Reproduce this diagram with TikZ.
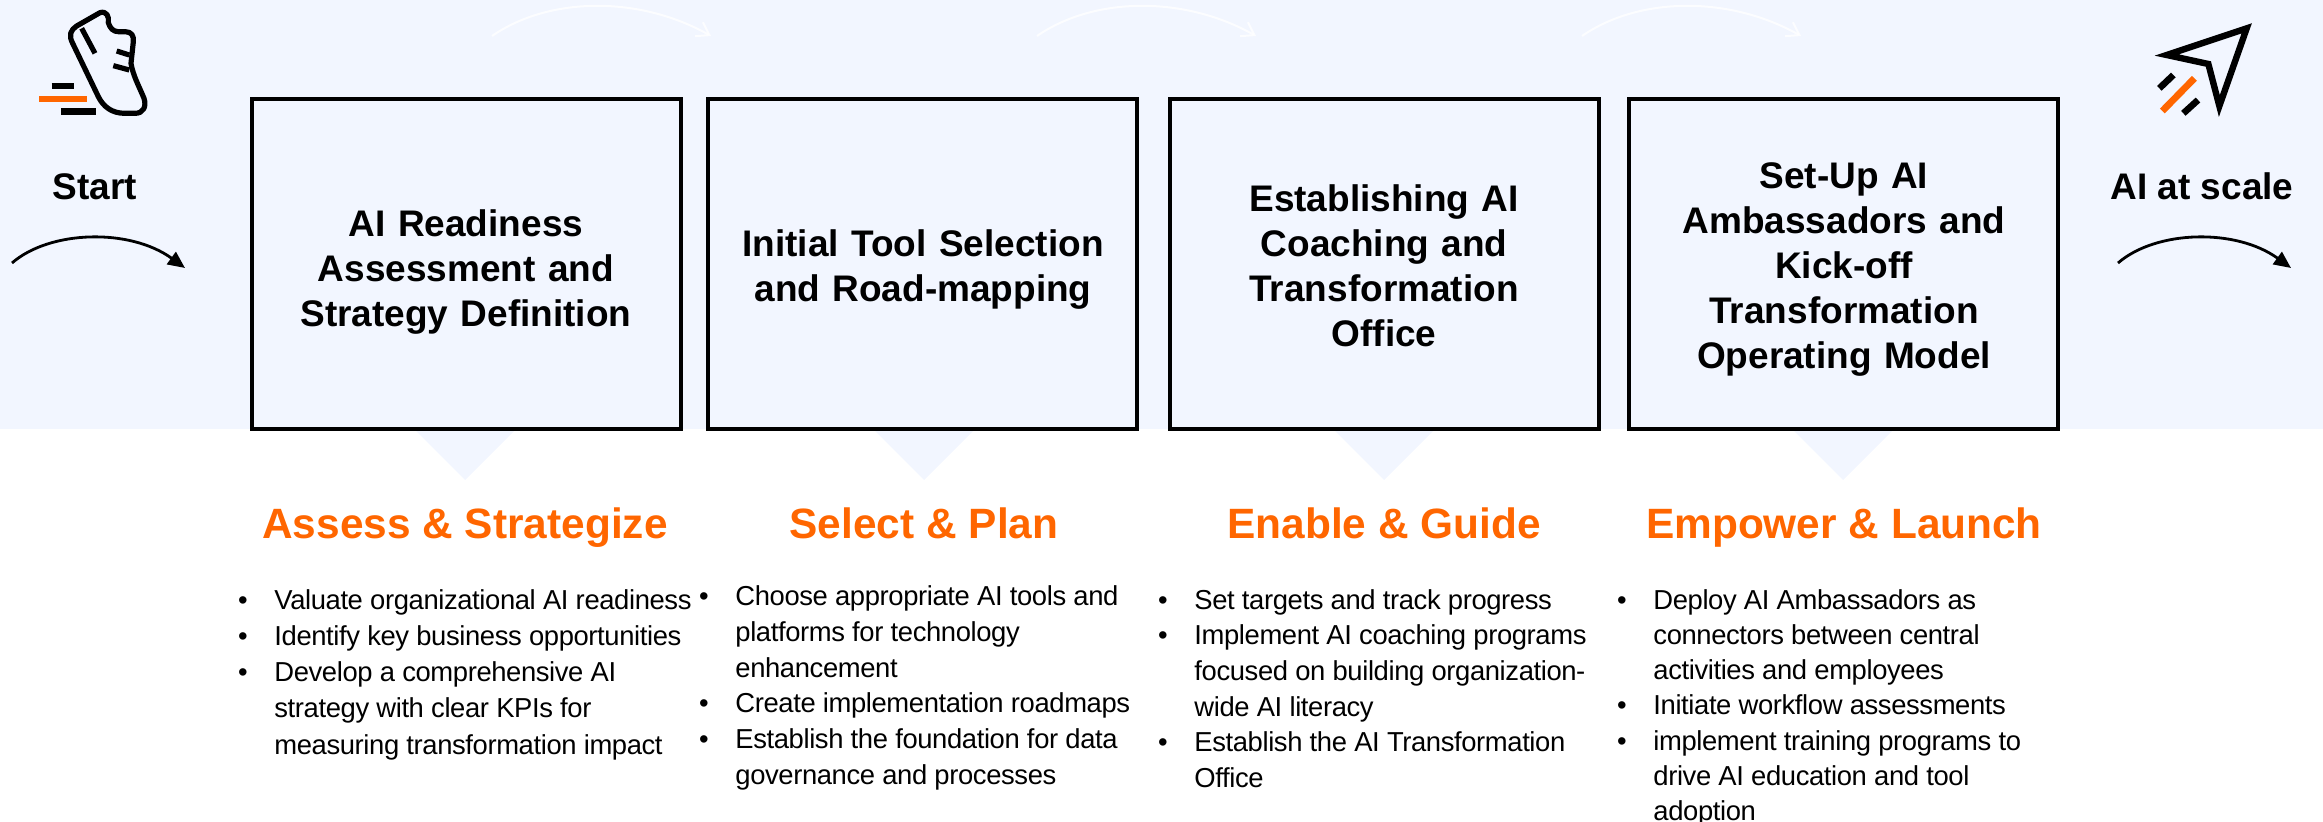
\documentclass[tikz,border=0pt]{standalone}
\usepackage{fontspec}
\setmainfont{Liberation Sans}
\newfontfamily\bodyfont{Liberation Sans}[LetterSpace=-1.4]
\usetikzlibrary{arrows.meta}
\definecolor{band}{HTML}{F2F6FF}
\definecolor{orng}{HTML}{FF6600}
\newcommand{\bul}[1]{\llap{•\hspace{13.4pt}}#1\\}
\tikzset{
 x=0.5pt,y=-0.5pt,
 stagebox/.style={draw=black,line width=2pt,fill=band,minimum width=214.5pt,minimum height=165pt,inner sep=0pt},
 stagetext/.style={inner sep=0pt,text width=190pt,align=center,font=\fontsize{18.5}{22.5}\selectfont\bfseries},
 heading/.style={anchor=base,text=orng,inner sep=0pt,font=\fontsize{21.2}{25}\selectfont\bfseries},
 endlabel/.style={anchor=base,inner sep=0pt,font=\fontsize{18.5}{22}\selectfont\bfseries},
 bodylist/.style={anchor=north west,inner sep=0pt,align=left,font=\fontsize{13.7}{#1}\bodyfont},
 notch/.style={fill=band,draw=none},
 flowblack/.style={draw=black,line width=1.4pt,-{Triangle[length=8.5pt,width=7.5pt]}},
 flowwhite/.style={draw=white,line width=1pt,opacity=.8,-{Straight Barb[length=6pt,width=8pt]}},
 iconline/.style={draw=black,line width=2.6pt,line join=round,line cap=round},
 dashblack/.style={draw=black,line width=3.3pt},
 dashorange/.style={draw=orng,line width=3.4pt},
}
\begin{document}
\begin{tikzpicture}
\useasboundingbox (0,0) rectangle (2323,822);
\fill[band] (0,0) rectangle (2323,429);
\foreach \c in {465,924,1384,1843}{\fill[notch] (\c-51,429) -- (\c+51,429) -- (\c,480) -- cycle;}
\node[stagebox] (b1) at (466,264) {};
\node[stagebox] (b2) at (922.5,264) {};
\node[stagebox] (b3) at (1384,264) {};
\node[stagebox] (b4) at (1843.5,264) {};
\node[stagetext] (t1) at (466,272) {AI Readiness\\Assessment and\\Strategy Definition};
\node[stagetext] (t2) at (923,270) {Initial Tool Selection\\and Road-mapping};
\node[stagetext] (t3) at (1384,266) {Establishing AI\\Coaching and\\Transformation\\Office};
\node[stagetext] (t4) at (1844,270) {Set-Up AI\\Ambassadors and\\Kick-off\\Transformation\\Operating Model};
\node[heading] (h1) at (465,538.5) {Assess \& Strategize};
\node[heading] (h2) at (924,538.5) {Select \& Plan};
\node[heading] (h3) at (1384,538.5) {Enable \& Guide};
\node[heading] (h4) at (1844,538.5) {Empower \& Launch};
\node[endlabel] (start) at (95,200) {Start};
\node[endlabel] (scale) at (2202,200) {AI at scale};
\node[bodylist=18.1] (l1) at (274,589) {\bul{Valuate organizational AI readiness}\bul{Identify key business opportunities}\bul{Develop a comprehensive AI}strategy with clear KPIs for\\measuring transformation impact};
\node[bodylist=17.95] (l2) at (735,585) {\bul{Choose appropriate AI tools and}platforms for technology\\enhancement\\\bul{Create implementation roadmaps}\bul{Establish the foundation for data}governance and processes};
\node[bodylist=17.8] (l3) at (1194,589) {\bul{Set targets and track progress}\bul{Implement AI coaching programs}focused on building organization-\\wide AI literacy\\\bul{Establish the AI Transformation}Office};
\node[bodylist=17.6] (l4) at (1653,589) {\bul{Deploy AI Ambassadors as}connectors between central\\activities and employees\\\bul{Initiate workflow assessments}\bul{implement training programs to}drive AI education and tool\\adoption};
\coordinate (as1) at (12,263); \coordinate (ae1) at (185,268);
\coordinate (as2) at (2118,263); \coordinate (ae2) at (2291,268);
\draw[flowblack] (as1) .. controls (50,230) and (130,228) .. (ae1);
\draw[flowblack] (as2) .. controls (2156,230) and (2236,228) .. (ae2);
\coordinate (ws1) at (492,36); \coordinate (we1) at (711,36);
\coordinate (ws2) at (1037,36); \coordinate (we2) at (1256,36);
\coordinate (ws3) at (1582,36); \coordinate (we3) at (1801,36);
\draw[flowwhite] (ws1) .. controls (550,-4) and (640,-4) .. (we1);
\draw[flowwhite] (ws2) .. controls (1095,-4) and (1185,-4) .. (we2);
\draw[flowwhite] (ws3) .. controls (1640,-4) and (1730,-4) .. (we3);
% shoe icon
\begin{scope}[x=0.16667pt,y=-0.16667pt]
\draw[iconline] (300,38) .. controls (320,32) and (328,50) .. (325,68) .. controls (330,85) and (340,95) .. (355,95) -- (375,95) .. controls (395,95) and (402,108) .. (400,125) -- (393,190) .. controls (398,225) and (420,265) .. (432,295) .. controls (440,320) and (430,340) .. (405,340) -- (375,340) .. controls (335,340) and (310,320) .. (295,290) -- (218,130) .. controls (205,105) and (212,90) .. (230,78) -- cycle;
\draw[iconline,line cap=butt] (245,85) -- (285,160);
\draw[iconline,line cap=butt] (350,153) -- (388,165);
\draw[iconline,line cap=butt] (340,197) -- (388,210);
\draw[dashblack] (155,258) -- (222,258);
\draw[dashorange] (118,297) -- (262,297);
\draw[dashblack] (183,335) -- (288,335);
\end{scope}
% plane icon
\begin{scope}[shift={(2050,0)},x=0.16667pt,y=-0.16667pt]
\draw[draw=black,line width=3.2pt,line join=miter] (590,85) -- (350,165) -- (475,192) -- (508,318) -- cycle;
\draw[dashblack] (328,265) -- (370,225);
\draw[dashorange] (337,333) -- (433,235);
\draw[dashblack] (400,340) -- (444,300);
\end{scope}
\end{tikzpicture}
\end{document}
